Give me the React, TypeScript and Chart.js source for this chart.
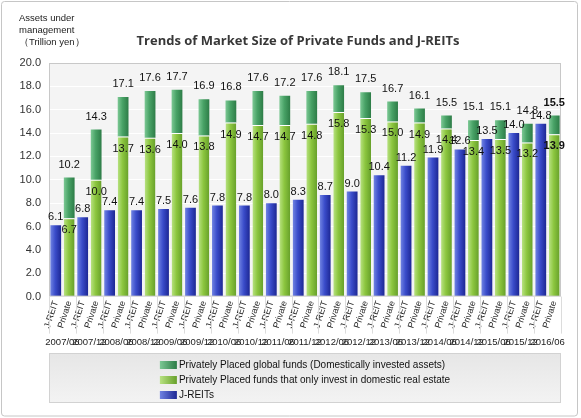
import { useEffect, useRef } from 'react'
import Chart from 'chart.js/auto'

const periods = ['2007/06', '2007/12', '2008/06', '2008/12', '2009/06', '2009/12', '2010/06', '2010/12', '2011/06', '2011/12', '2012/06', '2012/12', '2013/06', '2013/12', '2014/06', '2014/12', '2015/06', '2015/12', '2016/06']
const jreit = [6.1, 6.8, 7.4, 7.4, 7.5, 7.6, 7.8, 7.8, 8.0, 8.3, 8.7, 9.0, 10.4, 11.2, 11.9, 12.6, 13.5, 14.0, 14.8]
const privateDomestic = [6.7, 10.0, 13.7, 13.6, 14.0, 13.8, 14.9, 14.7, 14.7, 14.8, 15.8, 15.3, 15.0, 14.9, 14.4, 13.4, 13.5, 13.2, 13.9]
const privateTotal = [10.2, 14.3, 17.1, 17.6, 17.7, 16.9, 16.8, 17.6, 17.2, 17.6, 18.1, 17.5, 16.7, 16.1, 15.5, 15.1, 15.1, 14.8, 15.5]
const barKinds = ['J-REIT', 'Private']
const seriesNames = ['J-REITs', 'Privately Placed funds that only invest in domestic real estate', 'Privately Placed global funds (Domestically invested assets)']
const title = 'Trends of Market Size of Private Funds and J-REITs'
const yTitle = ['Assets under', 'management', '（Trillion yen）']

const barLabels = periods.flatMap(() => barKinds)
const globalPart = privateTotal.map((t, i) => Math.round((t - privateDomestic[i]) * 10) / 10)

const blue = ['#7083e2', '#3a4cca', '#1d2794']
const lightGreen = ['#b8e282', '#8cc63f', '#67a02a']
const darkGreen = ['#7cc894', '#48a266', '#2d7c47']
const palettes = [blue, lightGreen, darkGreen]

const BAR_PCT = 0.8
const NARROW = '"Liberation Sans Narrow", "Liberation Sans", sans-serif'
const NUM_FONT = '11px ' + NARROW

function barFill(stops: string[]) {
  return (c: any) => {
    const chart = c.chart
    const x = chart.scales?.x
    if (!chart.chartArea || !x || c.dataIndex == null) return stops[1]
    const cx = x.getPixelForValue(c.dataIndex)
    const w = (x.width / barLabels.length) * BAR_PCT
    const g = chart.ctx.createLinearGradient(cx - w / 2, 0, cx + w / 2, 0)
    g.addColorStop(0, stops[0])
    g.addColorStop(0.45, stops[1])
    g.addColorStop(1, stops[2])
    return g
  }
}

const decor = {
  id: 'decor',
  beforeDraw(chart: any) {
    const { ctx, chartArea: a, width, height } = chart
    ctx.save()
    ctx.fillStyle = '#fff'
    ctx.fillRect(0, 0, width, height)
    ctx.strokeStyle = '#c6c6c6'
    ctx.lineWidth = 1
    ctx.beginPath()
    ctx.roundRect(1.5, 1.5, width - 5, height - 3.5, 3)
    ctx.stroke()
    ctx.fillStyle = '#f4f4f4'
    ctx.fillRect(a.left, a.top, a.right - a.left, a.bottom - a.top)
    ctx.restore()
  },
  afterDatasetsDraw(chart: any) {
    const { ctx, chartArea: a } = chart
    ctx.save()
    ctx.strokeStyle = '#c8c8c8'
    ctx.lineWidth = 1
    ctx.strokeRect(a.left + 0.5, a.top + 0.5, a.right - a.left - 1, a.bottom - a.top - 1)

    // value labels
    ctx.fillStyle = '#111'
    ctx.textAlign = 'center'
    ctx.textBaseline = 'middle'
    const last = periods.length - 1
    chart.getDatasetMeta(0).data.forEach((el: any, i: number) => {
      if (i % 2 !== 0) return
      ctx.font = NUM_FONT
      ctx.fillText(jreit[i / 2].toFixed(1), el.x, el.y - 8)
    })
    chart.getDatasetMeta(1).data.forEach((el: any, i: number) => {
      if (i % 2 !== 1) return
      const p = (i - 1) / 2
      ctx.font = (p === last ? 'bold ' : '') + NUM_FONT
      ctx.fillText(privateDomestic[p].toFixed(1), el.x, el.y + 12)
    })
    chart.getDatasetMeta(2).data.forEach((el: any, i: number) => {
      if (i % 2 !== 1) return
      const p = (i - 1) / 2
      ctx.font = (p === last ? 'bold ' : '') + NUM_FONT
      ctx.fillText(privateTotal[p].toFixed(1), el.x, el.y - 13)
    })
    ctx.restore()
  },
  afterDraw(chart: any) {
    const { ctx, chartArea: a } = chart
    const x2 = chart.scales.x2
    ctx.save()
    // separators between period groups
    const slot = x2.width / periods.length
    ctx.strokeStyle = '#dcdcdc'
    ctx.lineWidth = 1
    for (let i = 0; i <= periods.length; i++) {
      const px = Math.round(x2.left + slot * i) + 0.5
      ctx.beginPath()
      ctx.moveTo(px, a.bottom)
      ctx.lineTo(px, x2.top + 1)
      ctx.stroke()
    }

    // title
    ctx.fillStyle = '#383838'
    ctx.font = 'bold 13px "Open Sans", sans-serif'
    ctx.textAlign = 'center'
    ctx.textBaseline = 'middle'
    ctx.fillText(title, (a.left + a.right) / 2 - 7, 41)

    // y-axis title
    ctx.fillStyle = '#222'
    ctx.font = '9.5px "Liberation Sans", sans-serif'
    ctx.textAlign = 'left'
    yTitle.forEach((t, i) => ctx.fillText(t, 19, 18 + i * 12))

    // legend box
    const top = x2.bottom + 1
    const h = 50
    const bg = ctx.createLinearGradient(0, top, 0, top + h)
    bg.addColorStop(0, '#e6e6e6')
    bg.addColorStop(1, '#f3f3f3')
    ctx.fillStyle = bg
    ctx.fillRect(a.left, top, a.right - a.left, h)
    ctx.strokeStyle = '#d2d2d2'
    ctx.strokeRect(a.left + 0.5, top + 0.5, a.right - a.left - 1, h - 1)
    ctx.font = '10px "Liberation Sans", sans-serif'
    const order = [2, 1, 0]
    const maxW = Math.max(...order.map((k) => ctx.measureText(seriesNames[k]).width))
    const sw = 17
    const left = (a.left + a.right) / 2 - (sw + 2 + maxW) / 2
    order.forEach((k, r) => {
      const cy = top + 12 + r * 15
      const g = ctx.createLinearGradient(left, 0, left + sw, 0)
      g.addColorStop(0, palettes[k][0])
      g.addColorStop(1, palettes[k][2])
      ctx.fillStyle = g
      ctx.fillRect(left, cy - 4, sw, 8)
      ctx.fillStyle = '#111'
      ctx.textBaseline = 'middle'
      ctx.fillText(seriesNames[k], left + sw + 2, cy)
    })
    ctx.restore()
  },
}

export default function App() {
  const ref = useRef<HTMLCanvasElement>(null)
  useEffect(() => {
    if (!ref.current) return
    const chart = new Chart(ref.current, {
      type: 'bar',
      data: {
        labels: barLabels,
        datasets: [
          {
            label: seriesNames[0],
            data: barLabels.map((_, i) => (i % 2 === 0 ? jreit[i / 2] : null)),
            backgroundColor: barFill(blue),
            stack: 's',
          },
          {
            label: seriesNames[1],
            data: barLabels.map((_, i) => (i % 2 === 1 ? privateDomestic[(i - 1) / 2] : null)),
            backgroundColor: barFill(lightGreen),
            borderColor: '#ffffff',
            borderWidth: { top: 1, left: 0, right: 0, bottom: 0 },
            borderSkipped: false,
            stack: 's',
          },
          {
            label: seriesNames[2],
            data: barLabels.map((_, i) => (i % 2 === 1 ? globalPart[(i - 1) / 2] : null)),
            backgroundColor: barFill(darkGreen),
            stack: 's',
          },
        ],
      },
      options: {
        animation: false,
        responsive: true,
        maintainAspectRatio: false,
        datasets: { bar: { barPercentage: BAR_PCT, categoryPercentage: 1 } },
        layout: { padding: { top: 63, left: 0, right: 20, bottom: 66 } },
        plugins: { legend: { display: false }, title: { display: false }, tooltip: { enabled: false } },
        scales: {
          x: {
            stacked: true,
            grid: { display: false, drawTicks: false },
            border: { display: false },
            ticks: {
              autoSkip: false,
              minRotation: 72,
              maxRotation: 72,
              padding: 3,
              color: '#222',
              font: { family: NARROW, size: 9 },
            },
          },
          x2: {
            type: 'category',
            labels: periods,
            position: 'bottom',
            offset: true,
            grid: { display: false, drawTicks: false },
            border: { display: false },
            ticks: {
              autoSkip: false,
              maxRotation: 0,
              padding: 4,
              color: '#222',
              font: { family: NARROW, size: 9.5 },
            },
          },
          y: {
            stacked: true,
            min: 0,
            max: 20,
            afterFit: (s: any) => { s.width = 49 },
            grid: { color: '#ffffff', lineWidth: 1, drawTicks: false },
            border: { display: false },
            ticks: {
              stepSize: 2,
              padding: 8,
              color: '#333',
              font: { family: '"Liberation Sans", sans-serif', size: 11 },
              callback: (v: any) => Number(v).toFixed(1),
            },
          },
        },
      },
      plugins: [decor],
    })
    return () => chart.destroy()
  }, [])
  return (
    <div style={{ position: 'absolute', left: 0, top: 0, width: 581, height: 418 }}>
      <canvas ref={ref} />
    </div>
  )
}
